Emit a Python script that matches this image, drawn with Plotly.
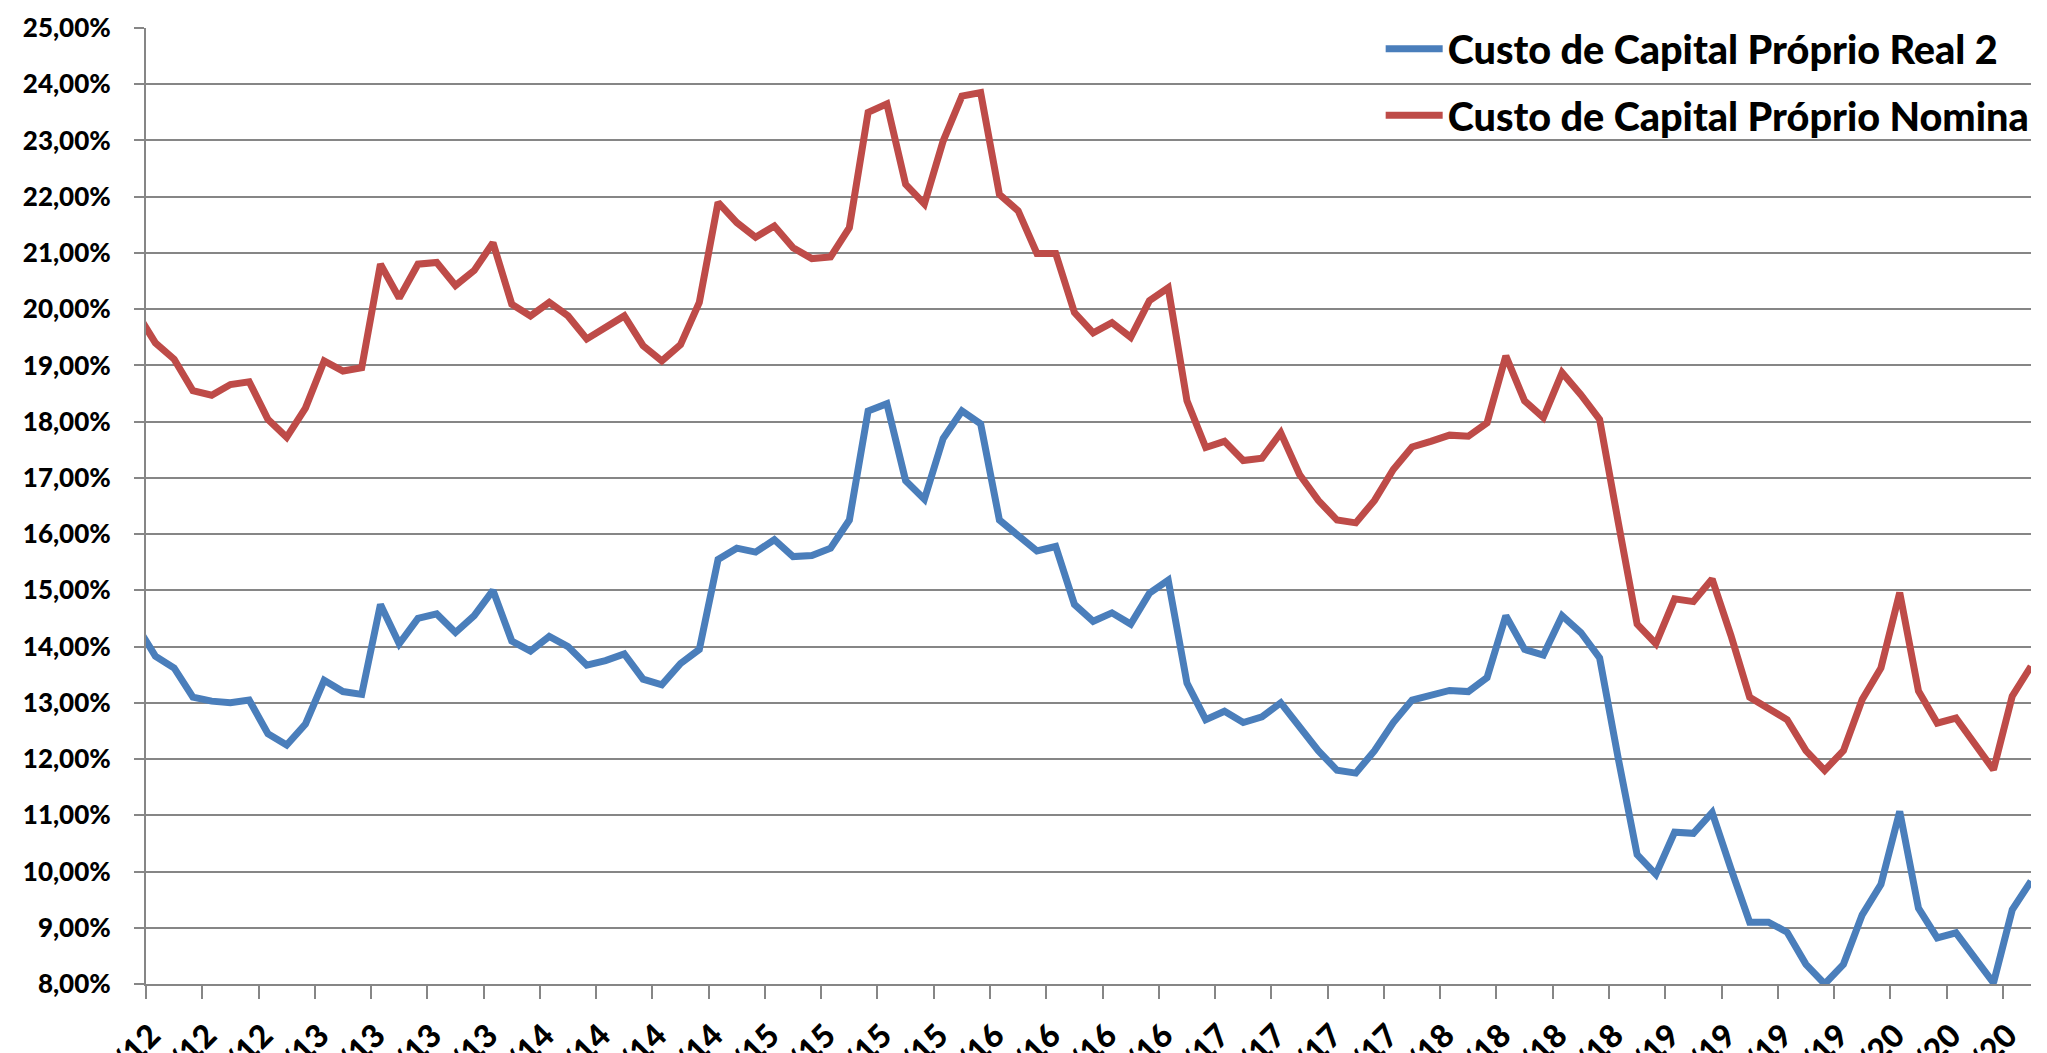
import plotly.graph_objects as go

# Monthly categories (first one sits just left of the visible axis and is clipped)
months_pt = ["jan", "fev", "mar", "abr", "mai", "jun", "jul", "ago", "set", "out", "nov", "dez"]
start_year, start_month = 2012, 4  # abr/12
n_points = 102
categories = []
for k in range(n_points):
    mm = (start_month - 1 + k) % 12
    yy = start_year + (start_month - 1 + k) // 12
    categories.append(f"{months_pt[mm]}/{str(yy)[2:]}")

# Custo de Capital Próprio Real 2 (%)
real_2 = [
    14.37, 13.83, 13.62, 13.10, 13.03, 13.00, 13.05, 12.45, 12.25, 12.62,
    13.40, 13.20, 13.15, 14.75, 14.05, 14.50, 14.58, 14.25, 14.55, 15.00,
    14.10, 13.92, 14.18, 14.00, 13.67, 13.75, 13.87, 13.42, 13.32, 13.70,
    13.95, 15.55, 15.75, 15.68, 15.90, 15.60, 15.62, 15.75, 16.25, 18.19,
    18.32, 16.95, 16.62, 17.70, 18.19, 17.96, 16.25, 15.98, 15.70, 15.78,
    14.75, 14.45, 14.60, 14.40, 14.95, 15.18, 13.35, 12.70, 12.85, 12.65,
    12.75, 13.00, 12.55, 12.15, 11.80, 11.75, 12.15, 12.65, 13.05, 13.12,
    13.22, 13.20, 13.45, 14.55, 13.95, 13.85, 14.55, 14.25, 13.80, 12.00,
    10.30, 9.95, 10.70, 10.68, 11.05, 10.05, 9.10, 9.10, 8.92, 8.35,
    8.00, 8.35, 9.23, 9.77, 11.07, 9.35, 8.82, 8.91, 8.46, 8.02,
    9.32, 9.83,
]

# Custo de Capital Próprio Nominal (%)
nominal = [
    19.94, 19.40, 19.11, 18.55, 18.47, 18.66, 18.71, 18.04, 17.72, 18.24,
    19.08, 18.90, 18.96, 20.80, 20.20, 20.80, 20.83, 20.42, 20.69, 21.18,
    20.09, 19.88, 20.12, 19.88, 19.47, 19.67, 19.88, 19.35, 19.08, 19.37,
    20.12, 21.90, 21.54, 21.28, 21.48, 21.09, 20.90, 20.93, 21.45, 23.50,
    23.65, 22.22, 21.87, 22.99, 23.79, 23.85, 22.04, 21.75, 20.99, 20.99,
    19.94, 19.58, 19.76, 19.50, 20.15, 20.38, 18.37, 17.54, 17.65, 17.31,
    17.35, 17.80, 17.06, 16.60, 16.25, 16.20, 16.60, 17.15, 17.55, 17.65,
    17.76, 17.74, 17.98, 19.17, 18.37, 18.07, 18.87, 18.48, 18.04, 16.20,
    14.40, 14.05, 14.85, 14.80, 15.20, 14.20, 13.10, 12.90, 12.70, 12.15,
    11.80, 12.15, 13.06, 13.62, 14.96, 13.21, 12.64, 12.73, 12.26, 11.81,
    13.12, 13.65,
]

series_names = ["Custo de Capital Próprio Real 2", "Custo de Capital Próprio Nomina"]
series_colors = ["#4A7EBB", "#BE4B48"]

y_ticks = [v / 100 for v in range(8, 26)]

# x positions: category index, first category one step left of the axis
xpos = list(range(-1, n_points - 1))
label_idx = list(range(0, n_points - 2, 3))  # labelled categories (every 3rd month)

fig = go.Figure()
for name, vals, col in zip(series_names, [real_2, nominal], series_colors):
    fig.add_trace(go.Scatter(
        x=xpos, y=[v / 100 for v in vals], mode="lines", name=name,
        legendgroup=name,
        line=dict(color=col, width=7),
    ))

font_family = "Lato, 'Open Sans', sans-serif"
grid_col = "#868686"

fig.update_layout(
    width=2047, height=1053,
    margin=dict(l=138, r=24, t=20, b=77, autoexpand=False),
    paper_bgcolor="white", plot_bgcolor="white",
    separators=",.",
    font=dict(family=font_family, color="black"),
    showlegend=True,
    legend=dict(
        x=0.655, xanchor="left", y=1.012, yanchor="top",
        bgcolor="rgba(0,0,0,0)",
        font=dict(family=font_family, size=39.6, color="black", weight=900),
        itemwidth=57, tracegroupgap=12,
        traceorder="grouped",
    ),
    xaxis=dict(
        range=[-0.5, 100],
        tickmode="array",
        tickvals=[i - 0.5 for i in label_idx],
        ticktext=[categories[i + 1] for i in label_idx],
        ticklabelshift=5,
        tickangle=-45,
        ticks="outside", ticklen=13, tickwidth=2, tickcolor=grid_col,
        showline=True, linecolor=grid_col, linewidth=2,
        showgrid=False, zeroline=False,
        ticklabelstandoff=5,
        tickfont=dict(family=font_family, size=32, color="black", weight=900),
        automargin=False,
    ),
    yaxis=dict(
        range=[0.08, 0.25],
        tickmode="array", tickvals=y_ticks, tickformat=".2%",
        ticks="outside", ticklen=10, tickwidth=2, tickcolor=grid_col,
        showline=True, linecolor=grid_col, linewidth=2,
        showgrid=True, gridcolor=grid_col, gridwidth=2,
        zeroline=False,
        ticklabelstandoff=18,
        tickfont=dict(family=font_family, size=26, color="black", weight=900),
        automargin=False,
    ),
)

fig.write_html("out.html")
